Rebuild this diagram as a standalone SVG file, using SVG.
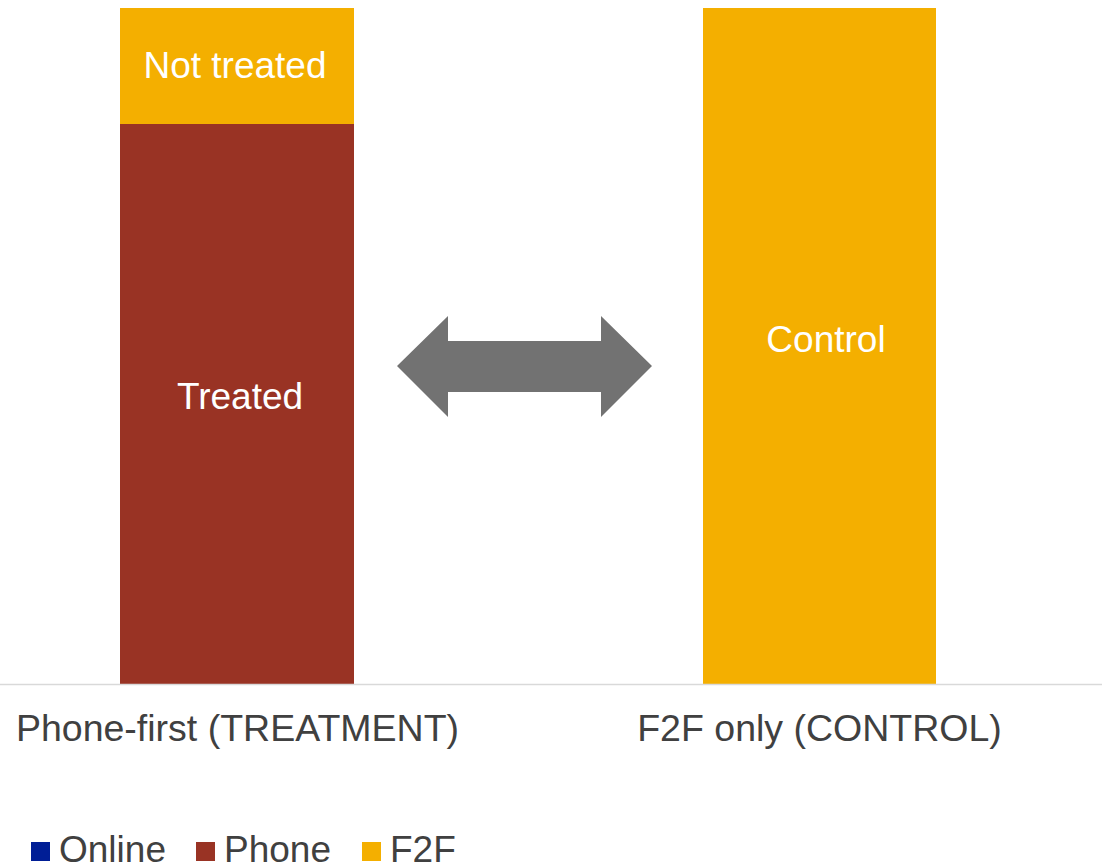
<svg xmlns="http://www.w3.org/2000/svg" width="1102" height="864" viewBox="0 0 1102 864">
<style>
text{font-family:"Liberation Sans",Arial,sans-serif}
.w{fill:#ffffff;font-size:37px;text-anchor:middle}
.cat{fill:#404040;font-size:37.5px;text-anchor:middle}
.leg{fill:#404040;font-size:37px}
</style>
<rect width="1102" height="864" fill="#ffffff"/>
<g id="bar-treatment">
<rect x="120" y="8" width="234" height="116" fill="#F4AF00"/>
<rect x="120" y="124" width="234" height="560" fill="#993324"/>
<text class="w" x="235" y="78">Not treated</text>
<text class="w" x="240" y="409">Treated</text>
</g>
<g id="bar-control">
<rect x="703" y="8" width="233" height="676" fill="#F4AF00"/>
<text class="w" x="826" y="352">Control</text>
</g>
<line x1="0" y1="684.5" x2="1102" y2="684.5" stroke="#d9d9d9" stroke-width="1.5"/>
<g id="connectors">
<polygon points="397,366 448,316 448,341 601,341 601,316 652,366 601,417 601,392 448,392 448,417" fill="#727272"/>
</g>
<g id="axis-labels">
<text class="cat" x="237.5" y="741">Phone-first (TREATMENT)</text>
<text class="cat" x="819.5" y="741">F2F only (CONTROL)</text>
</g>
<g id="legend">
<rect x="31" y="842" width="19" height="19" fill="#001E96"/>
<text class="leg" x="59" y="862">Online</text>
<rect x="196" y="842" width="19" height="19" fill="#993324"/>
<text class="leg" x="224" y="862">Phone</text>
<rect x="362" y="842" width="19" height="19" fill="#F4AF00"/>
<text class="leg" x="390" y="862">F2F</text>
</g>
</svg>
